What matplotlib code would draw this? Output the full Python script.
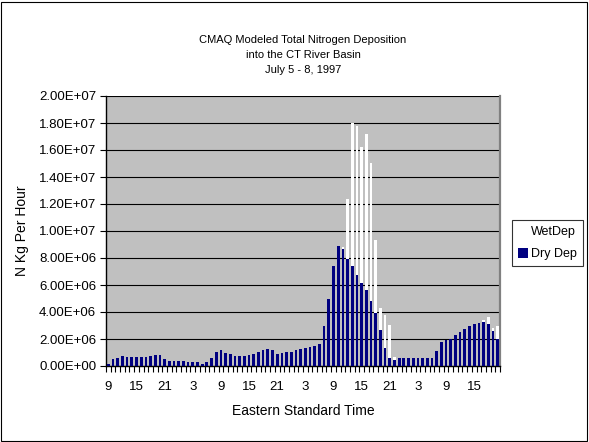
import matplotlib
matplotlib.use("Agg")
import matplotlib.pyplot as plt
from matplotlib.patches import Patch, Rectangle
from matplotlib.ticker import FuncFormatter, MultipleLocator, FixedLocator
import numpy as np

plt.rcParams['font.family'] = ['Liberation Sans', 'DejaVu Sans']

# Hourly deposition, in millions of kg N per hour, July 5 09:00 .. July 8 20:00 (EST)
dry_dep_millions = [
    0.18, 0.50, 0.58, 0.73, 0.65, 0.65, 0.65, 0.65, 0.65, 0.73,
    0.80, 0.80, 0.50, 0.35, 0.35, 0.35, 0.35, 0.28, 0.27, 0.27,
    0.18, 0.27, 0.57, 1.02, 1.17, 0.94, 0.86, 0.72, 0.72, 0.72,
    0.79, 0.87, 1.02, 1.17, 1.24, 1.17, 0.87, 0.94, 1.02, 1.03,
    1.17, 1.24, 1.32, 1.40, 1.47, 1.62, 2.97, 4.98, 7.40, 8.90,
    8.68, 7.93, 7.40, 6.73, 6.13, 5.60, 4.85, 3.95, 2.68, 1.33,
    0.57, 0.43, 0.57, 0.57, 0.57, 0.57, 0.57, 0.57, 0.57, 0.57,
    1.10, 1.77, 1.92, 2.00, 2.30, 2.52, 2.75, 2.97, 3.12, 3.18,
    3.27, 3.12, 2.60, 2.00,
]
wet_dep_millions = [
    0, 0, 0, 0, 0, 0, 0, 0, 0, 0,
    0, 0, 0, 0, 0, 0, 0, 0, 0, 0,
    0, 0, 0, 0, 0, 0, 0, 0, 0, 0,
    0, 0, 0, 0, 0, 0, 0, 0, 0, 0,
    0, 0, 0, 0, 0, 0, 0, 0, 0, 0,
    0.10, 4.42, 10.60, 11.07, 10.12, 11.55, 10.15, 5.40, 1.65, 2.47,
    2.47, 0.22, 0, 0, 0, 0, 0, 0, 0, 0,
    0, 0, 0, 0, 0, 0, 0, 0, 0, 0,
    0.15, 0.52, 0.23, 0.98,
]
tick_labels = ["9", "15", "21", "3", "9", "15", "21", "3", "9", "15", "21", "3", "9", "15"]
label_every = 6

dry = np.array(dry_dep_millions) * 1e6
wet = np.array(wet_dep_millions) * 1e6
x = np.arange(len(dry))

W, H = 589, 442
fig = plt.figure(figsize=(W / 100, H / 100), dpi=100)
fig.patch.set_facecolor('white')
fig.add_artist(Rectangle((1 / W, 1 / H), 1 - 3 / W, 1 - 3 / H, transform=fig.transFigure,
                         fill=False, edgecolor='black', linewidth=0.8))

L, R, B, T = 106, 500, 366, 96
ax = fig.add_axes([L / W, 1 - B / H, (R - L) / W, (B - T) / H])
ax.set_facecolor('#C0C0C0')

bw = 0.58
ax.bar(x, dry, width=bw, color='#000080', label='Dry Dep', zorder=3)
ax.bar(x, wet, width=bw, bottom=dry, color='white', label='WetDep', zorder=3)

ax.set_xlim(-0.5, len(dry) - 0.5)
ax.set_ylim(0, 2.0e7)
ax.yaxis.set_major_locator(MultipleLocator(2e6))
ax.yaxis.set_major_formatter(FuncFormatter(lambda v, p: f"{v:.2E}"))
ax.grid(axis='y', color='black', linewidth=0.8, zorder=1)

ax.xaxis.set_major_locator(FixedLocator(np.arange(0, len(dry), label_every)))
ax.set_xticklabels(tick_labels)
ax.xaxis.set_minor_locator(FixedLocator(np.arange(len(dry) + 1) - 0.5))
ax.tick_params(axis='x', which='major', length=0, pad=11, labelsize=9.5)
ax.tick_params(axis='x', which='minor', length=4, width=0.8, direction='out')
ax.tick_params(axis='y', which='major', length=4, width=0.8, direction='out', labelsize=9.5, pad=3)

for s in ['left', 'bottom']:
    ax.spines[s].set_color('black')
    ax.spines[s].set_linewidth(1.0)
ax.spines['top'].set_visible(False)
ax.spines['right'].set_color('#808080')
ax.spines['right'].set_linewidth(1.6)

ax.set_xlabel('Eastern Standard Time', fontsize=10, labelpad=8)
ax.set_ylabel('N Kg Per Hour', fontsize=10, labelpad=7)

fig.text(303 / W, 1 - 35 / H, 'CMAQ Modeled Total Nitrogen Deposition\ninto the CT River Basin\nJuly 5 - 8, 1997',
         ha='center', va='top', fontsize=8, linespacing=1.6)

handles = [Patch(facecolor='white', edgecolor='none', label='WetDep'),
           Patch(facecolor='#000080', edgecolor='none', label='Dry Dep')]
leg = fig.legend(handles=handles, loc='center left', bbox_to_anchor=(512 / W, 1 - 243 / H),
                 fontsize=9, frameon=True, fancybox=False, borderaxespad=0,
                 handlelength=0.8, handleheight=0.8, handletextpad=0.2, borderpad=0.5,
                 labelspacing=0.8)
leg.get_frame().set_edgecolor('black')
leg.get_frame().set_linewidth(0.8)

fig.savefig('out.png', dpi=100)
